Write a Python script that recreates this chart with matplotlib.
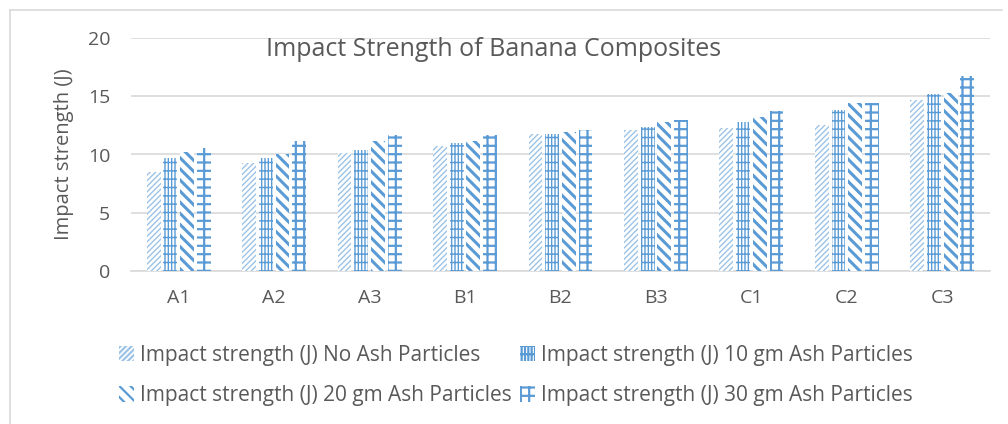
import matplotlib
matplotlib.use("Agg")
import matplotlib.pyplot as plt
from matplotlib.patches import Patch
from matplotlib.lines import Line2D
import numpy as np

categories = ["A1", "A2", "A3", "B1", "B2", "B3", "C1", "C2", "C3"]
no_ash = [8.5, 9.3, 10.1, 10.7, 11.8, 12.1, 12.3, 12.5, 14.7]
ash_10 = [9.7, 9.7, 10.4, 11.0, 11.8, 12.4, 12.8, 13.8, 15.2]
ash_20 = [10.2, 10.0, 11.2, 11.2, 11.9, 12.8, 13.2, 14.4, 15.3]
ash_30 = [10.6, 11.2, 11.7, 11.7, 12.1, 13.0, 13.7, 14.4, 16.7]
series_labels = [
    "Impact strength (J) No Ash Particles",
    "Impact strength (J) 10 gm Ash Particles",
    "Impact strength (J) 20 gm Ash Particles",
    "Impact strength (J) 30 gm Ash Particles",
]
title = "Impact Strength of Banana Composites"
ylabel = "Impact strength (J)"
yticks = [0, 5, 10, 15, 20]

plt.rcParams['font.family'] = ['Open Sans', 'DejaVu Sans']

fig = plt.figure(figsize=(10.08, 4.24), dpi=100)
ax = fig.add_axes([131/1008, 1-271/424, (990-131)/1008, (271-38)/424])

blue = "#5B9BD5"
light = "#9DC3E6"
styles = [
    dict(hatch="//////", edge=light, lw=1.0),
    dict(hatch="|||++", edge=blue, lw=1.0),
    dict(hatch="\\\\\\", edge=blue, lw=2.2),
    dict(hatch="++", edge=blue, lw=1.6),
]
series = [no_ash, ash_10, ash_20, ash_30]
x = np.arange(len(categories))
width = 0.145
step = 0.175
offsets = (np.arange(4) - 1.5) * step

handles = []
for i, (vals, st) in enumerate(zip(series, styles)):
    plt.rcParams['hatch.linewidth'] = st["lw"]
    bars = ax.bar(x + offsets[i], vals, width, facecolor="white",
                  edgecolor=st["edge"], hatch=st["hatch"], linewidth=0, zorder=3)
    for b in bars:
        if hasattr(b, "set_hatch_linewidth"):
            b.set_hatch_linewidth(st["lw"])
    h = Patch(facecolor="white", edgecolor=st["edge"], hatch=st["hatch"], linewidth=0)
    if hasattr(h, "set_hatch_linewidth"):
        h.set_hatch_linewidth(st["lw"])
    handles.append(h)

ax.set_xlim(-0.5, len(categories) - 0.5)
ax.set_ylim(0, 20)
ax.set_yticks(yticks)
ax.set_xticks(x)
ax.set_xticklabels(categories)
ax.tick_params(axis="both", length=0, labelsize=14, colors="#595959")
ax.tick_params(axis="x", pad=13)
ax.tick_params(axis="y", pad=15)
ax.yaxis.grid(True, color="#D9D9D9", linewidth=1.2, zorder=0)
ax.set_axisbelow(True)
for s in ["top", "right", "left"]:
    ax.spines[s].set_visible(False)
ax.spines["bottom"].set_color("#D9D9D9")
ax.spines["bottom"].set_linewidth(1.2)
ax.set_ylabel(ylabel, fontsize=14.5, color="#595959")
ax.yaxis.set_label_coords((74-131)/859, 0.5)
ax.text(0.422, 0.952, title, transform=ax.transAxes, ha="center", va="center",
        fontsize=18, color="#595959")

order = [0, 2, 1, 3]
leg = fig.legend([handles[i] for i in order], [series_labels[i] for i in order],
                 ncol=2, loc="upper left", bbox_to_anchor=(104/1008, 1-330/424),
                 frameon=False, fontsize=15, handlelength=0.75, handleheight=0.75,
                 handletextpad=0.3, columnspacing=0.35, labelspacing=0.95,
                 labelcolor="#595959", borderpad=0.2)

# outer chart border
fig.add_artist(Line2D([10/1008, 10/1008], [0, 1-10/424], color="#D9D9D9", lw=1.2, transform=fig.transFigure))
fig.add_artist(Line2D([10/1008, 1002/1008], [1-10/424, 1-10/424], color="#D9D9D9", lw=1.2, transform=fig.transFigure))

fig.savefig("out.png", dpi=100)
